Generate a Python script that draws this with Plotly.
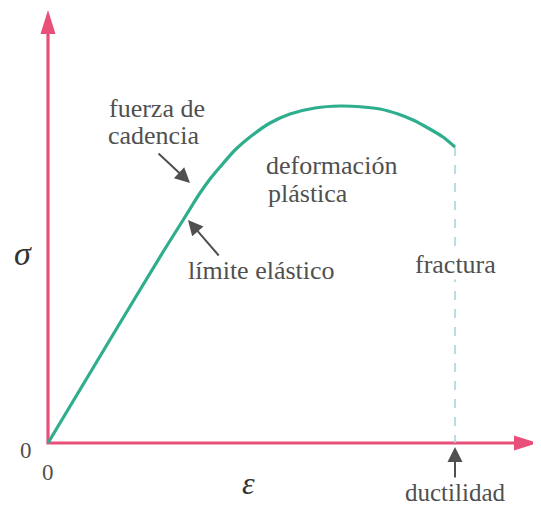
import plotly.graph_objects as go

# Stress-strain curve (arbitrary units)
strain = [0, 72, 115, 137, 145, 152, 162, 172, 187, 202, 222, 242, 267, 292, 315, 332, 350, 365, 380, 395, 407]
stress = [0, 120, 191, 226, 239, 250, 264, 276, 293, 306, 320, 329, 335, 337, 336, 334, 329, 323, 315, 306, 296]

fracture_strain = strain[-1]
fracture_stress = stress[-1]
axis_x_end = 490
axis_y_end = 433

yield_lines = ["fuerza de", "cadencia"]
plastic_lines = ["deformación", "plástica"]
elastic_label = "límite elástico"
fracture_label = "fractura"
ductility_label = "ductilidad"

PINK = "#e8507a"
TEAL = "#2eae8c"
GREY = "#505050"
FONT = "Liberation Serif"
HEAD_LEN = 24
HEAD_HALF = 7.5

fig = go.Figure()

# pink axes
fig.add_trace(go.Scatter(x=[0, 0, axis_x_end - HEAD_LEN + 2], y=[axis_y_end - HEAD_LEN + 2, 0, 0],
                         mode="lines", line=dict(color=PINK, width=3.2),
                         hoverinfo="skip", showlegend=False))
# dashed fracture line
fig.add_trace(go.Scatter(x=[fracture_strain, fracture_strain], y=[fracture_stress, 0],
                         mode="lines", line=dict(color="#a3d2da", width=1.5, dash="dash"),
                         hoverinfo="skip", showlegend=False))
# curve
fig.add_trace(go.Scatter(x=strain, y=stress, mode="lines",
                         line=dict(color=TEAL, width=3.2, shape="spline", smoothing=0.6),
                         hoverinfo="skip", showlegend=False))

shapes = [
    dict(type="path", xref="x", yref="y", fillcolor=PINK, line=dict(width=0),
         path=f"M {-HEAD_HALF},{axis_y_end - HEAD_LEN} L {HEAD_HALF},{axis_y_end - HEAD_LEN} L 0,{axis_y_end} Z"),
    dict(type="path", xref="x", yref="y", fillcolor=PINK, line=dict(width=0),
         path=f"M {axis_x_end - HEAD_LEN},{-HEAD_HALF} L {axis_x_end - HEAD_LEN},{HEAD_HALF} L {axis_x_end},0 Z"),
]

ann = []
def arrow(x, y, ax, ay):
    return dict(x=x, y=y, ax=ax, ay=ay, xref="x", yref="y", axref="x", ayref="y",
                showarrow=True, arrowhead=2, arrowsize=1.5, arrowwidth=2, arrowcolor=GREY, text="")

ann.append(arrow(142, 260, 109, 291))
ann.append(arrow(140, 223, 172, 186))
ann.append(arrow(fracture_strain, -4, fracture_strain, -36))

def txt(x, y, t, size=26, xanchor="center", bg=None, italic=False, color=GREY):
    d = dict(x=x, y=y, xref="x", yref="y", text=t, showarrow=False, xanchor=xanchor, yanchor="middle",
             font=dict(family=FONT, size=size, color=color, style="italic" if italic else "normal"),
             borderpad=0)
    if bg:
        d["bgcolor"] = bg
    return d

ann.append(txt(109, 335, yield_lines[0]))
ann.append(txt(105, 308, yield_lines[1]))
ann.append(txt(217, 278, plastic_lines[0], xanchor="left"))
ann.append(txt(219, 250, plastic_lines[1], xanchor="left"))
ann.append(txt(213, 173, elastic_label))
ann.append(txt(fracture_strain, 179, fracture_label, bg="white"))
ann.append(txt(fracture_strain, -49, ductility_label, size=25))
ann.append(txt(-22, -7, "0", size=23))
ann.append(txt(0, -29, "0", size=23))
ann.append(txt(-25, 190, "σ", size=34, italic=True, color="#333"))
ann.append(txt(200, -40, "ε", size=32, italic=True, color="#333"))

fig.update_layout(
    width=525, height=501,
    margin=dict(l=0, r=0, t=0, b=0),
    paper_bgcolor="white", plot_bgcolor="white",
    xaxis=dict(range=[-40, 485], visible=False, fixedrange=True),
    yaxis=dict(range=[-66, 435], visible=False, fixedrange=True),
    annotations=ann, shapes=shapes,
    showlegend=False,
)

fig.write_html("out.html")
